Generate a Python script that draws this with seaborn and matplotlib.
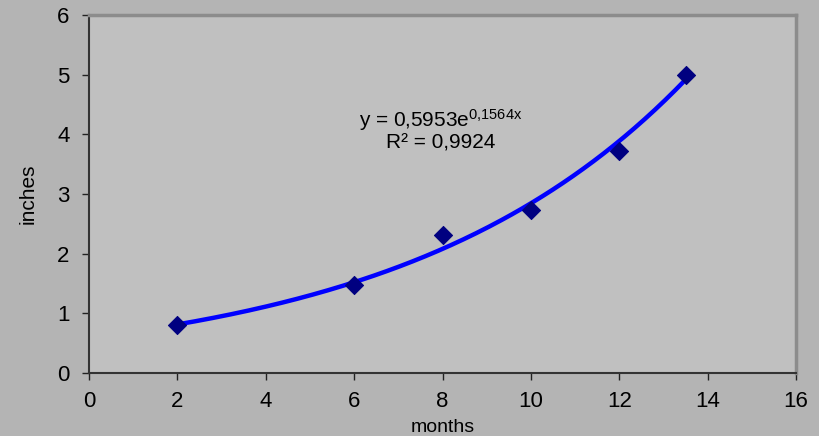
import matplotlib
matplotlib.use("Agg")
import matplotlib.pyplot as plt
import seaborn as sns
import pandas as pd
import numpy as np

# dados
months = [2, 6, 8, 10, 12, 13.5]
inches = [0.80, 1.48, 2.32, 2.74, 3.72, 5.00]
x_ticks = [0, 2, 4, 6, 8, 10, 12, 14, 16]
y_ticks = [0, 1, 2, 3, 4, 5, 6]

sns.set_theme(style="white")
plt.rcParams['font.family'] = ['Liberation Sans', 'DejaVu Sans']
plt.rcParams['mathtext.default'] = 'regular'
plt.rcParams['text.color'] = 'black'
plt.rcParams['axes.labelcolor'] = 'black'
plt.rcParams['xtick.color'] = 'black'
plt.rcParams['ytick.color'] = 'black'

df = pd.DataFrame({"months": months, "inches": inches})

# linha de tendência exponencial (regressão em ln y, como no Excel)
b, ln_a = np.polyfit(df["months"], np.log(df["inches"]), 1)
xs = np.linspace(min(months), max(months), 200)
trend = pd.DataFrame({"months": xs, "inches": np.exp(ln_a) * np.exp(b * xs)})

fig = plt.figure(figsize=(8.19, 4.36), dpi=100, facecolor="#b4b4b4")
ax = fig.add_axes([89 / 819, 1 - 373 / 436, (796 - 89) / 819, (373 - 15) / 436])
ax.set_facecolor("#c0c0c0")

sns.lineplot(data=trend, x="months", y="inches", color="#0000ff", linewidth=3.2, ax=ax, zorder=2)
sns.scatterplot(data=df, x="months", y="inches", marker="D", s=85, color="#000080",
                edgecolor="#000080", ax=ax, zorder=3)

ax.text(0.498, 0.707, "y = 0,5953e$^{0{,}1564x}$", transform=ax.transAxes,
        ha="center", va="center", fontsize=15)
ax.text(0.498, 0.642, "R² = 0,9924", transform=ax.transAxes,
        ha="center", va="center", fontsize=15)

ax.set_xlim(0, 16)
ax.set_ylim(0, 6)
ax.set_xticks(x_ticks)
ax.set_yticks(y_ticks)
ax.tick_params(axis="both", direction="out", length=5, width=1, color="#222222",
               labelsize=16, bottom=True, left=True)
ax.tick_params(axis="x", pad=8)
ax.tick_params(axis="y", pad=9)
ax.set_xlabel("months", fontsize=14, labelpad=5)
ax.set_ylabel("inches", fontsize=15, labelpad=14)

for side in ["left", "bottom"]:
    ax.spines[side].set_color("#333333")
    ax.spines[side].set_linewidth(1.5)
for side in ["top", "right"]:
    ax.spines[side].set_color("#8c8c8c")
    ax.spines[side].set_linewidth(2.5)

fig.savefig("out.png", dpi=100, facecolor=fig.get_facecolor())
